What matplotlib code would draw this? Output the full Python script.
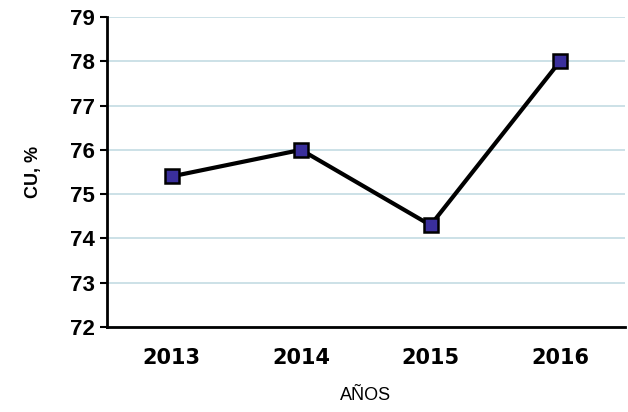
import matplotlib
matplotlib.use("Agg")
import matplotlib.pyplot as plt

# data
years = ["2013", "2014", "2015", "2016"]
cu_values = [75.4, 76.0, 74.3, 78.0]
y_ticks = [72, 73, 74, 75, 76, 77, 78, 79]

plt.rcParams['font.family'] = ['Liberation Sans', 'DejaVu Sans']

fig = plt.figure(figsize=(6.28, 4.12), dpi=100)
ax = fig.add_axes([0.170, 0.206, 0.825, 0.753])

x = range(len(years))
ax.plot(x, cu_values, color='black', linewidth=3, marker='s', markersize=10,
        markerfacecolor='#3a2f9c', markeredgecolor='black', markeredgewidth=1.8,
        zorder=3)

ax.set_xlim(-0.5, len(years) - 0.5)
ax.set_ylim(72, 79)
ax.set_yticks(y_ticks)
ax.set_xticks(list(x))
ax.set_xticklabels(years, fontsize=15, fontweight='bold', family='DejaVu Sans')
ax.tick_params(axis='y', labelsize=16, length=5, width=1.5, direction='out')
ax.tick_params(axis='x', length=0, pad=15)
for lbl in ax.get_yticklabels():
    lbl.set_fontweight('bold')

ax.yaxis.grid(True, color='#c3dbe3', linewidth=1.2)
ax.set_axisbelow(True)
for side in ['top', 'right']:
    ax.spines[side].set_visible(False)
ax.spines['left'].set_linewidth(2)
ax.spines['bottom'].set_linewidth(2)

ax.set_xlabel("AÑOS", fontsize=13, labelpad=14)
ax.set_ylabel("CU, %", fontsize=13, fontweight='bold', labelpad=20)

fig.savefig("out.png", dpi=100)
